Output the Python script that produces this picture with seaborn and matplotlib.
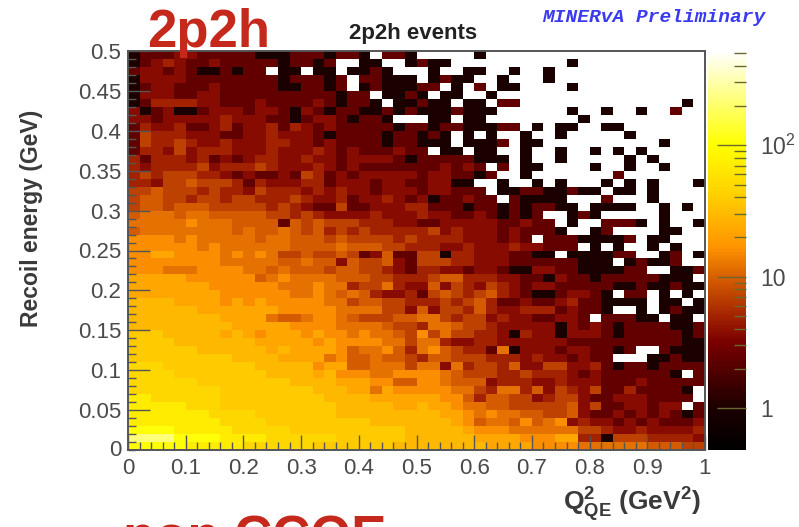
import numpy as np
import pandas as pd
import seaborn as sns
import matplotlib
matplotlib.use("Agg")
import matplotlib.pyplot as plt
from matplotlib.colors import LinearSegmentedColormap, LogNorm
from matplotlib.ticker import FixedLocator, NullFormatter

# Estimated bin contents, top row (recoil 0.5) to bottom row (recoil 0), read as coded levels.
LEVEL_VALUES = {"1": 1, "2": 2.4, "3": 3.7, "4": 5, "5": 7, "6": 9.5, "7": 12, "8": 16, "9": 22,
                "a": 29, "b": 38, "c": 48, "d": 70, "e": 105, "f": 220, ".": np.nan}
ROWS = [
 "1222332222 2111222122 1.221..... 1......... ..........",
 "1234322322 22212212.. 11..1211.. ........1. ..........",
 "2332321121 22.11.11.1 121...1..1 1..1..1... ..........",
 "1333322222 222122212. 22111.1211 ..1...1... ..........",
 "1233222322 222112212. 1211122.1. 2.11....1. ..........",
 "1333223322 2222222212 2.1121.11. .1........ ..........",
 "1244443322 2322223212 21.11211.1 1.22...... ........1.",
 "3123112333 2332132122 1121211121 11......1. .1..1..2..",
 "3323333343 3322123321 221...11.1 1........1 ..........",
 "2433422342 3342432322 2221221221 1122.1.11. .11.......",
 "2544433322 3343332122 22122121.1 .1..1..1.. ...1......",
 "2544543343 3344332322 22122111.1 112.11.... ......1...",
 "2443534443 3343334323 222322.11. 11..1..1.. 1.1.1.....",
 "4244434232 3443343323 3332122222 111.1..1.. ...1.1....",
 "4344445344 4543334323 2222222323 2.2.11.... 1..1..1...",
 "4545554432 3223254232 3333323322 12..1..... ..2.......",
 "4435565554 2433344233 3233223311 ..1..1.1.. .1.1.1...1",
 "5565554544 3544434343 3233323322 2.11221121 1.11.1....",
 "5665545545 5444543342 3343231223 22.21111.. .2...1....",
 "5665666555 5545432252 2333442221 221212211. 1111..1.1.",
 "6777677666 6655454333 3433343322 321212..12 1.....1...",
 "7777787776 6662656555 4443322333 3322322.1. .2221.1..1",
 "6777777776 7667656454 5444445343 33232221.. 12....11..",
 "8888787777 7677666565 5554544443 33232.2221 1112.11...",
 "8888887877 7777666676 6655444334 333433222. 1.1..1.1..",
 "8899888878 7875565565 2362255144 3332211.11 1122..12.1",
 "8888888877 7776676636 5563255544 3332222221 11.12112..",
 "8887778888 7767666566 5543244332 3321133221 11122..112",
 "9999988888 8678777766 6554445664 4433221322 122222111.",
 "9999999888 8887778774 5574336354 3543233222 2211211211",
 "9999999988 8888778767 6433425654 5643211233 21.22.1.1.",
 "aaaa999989 8988888775 6655444545 6422322342 21111.11.1",
 "aaaaaa9999 9998888877 7755363554 6433444232 21..1.1211",
 "aaaaaaaa99 9976678876 5556677545 5343322332 .22211.11.",
 "aaaaaaaaa9 9999888877 7765547765 5433333132 3212222112",
 "bbbaaaaa9a 9899989887 8776585755 4431433133 3212222212",
 "bbbbaaaaaa a999998988 8877577433 4433333322 2222222211",
 "bbbbbbaaaa aa9a999986 7786478654 4271333233 2212..2111",
 "bbbbbbbbba aaa9999786 6766546655 5444343323 22...11211",
 "cccbbbbbbb baaaaa8996 6777577374 5546335533 4212212222",
 "ccccbbbbbb bbaaaa9a88 8778888765 5544544432 32222221.2",
 "ccccccbbbb bbbbaaaa99 9886688766 6344433433 3222322222",
 "ccccccccbb bbbbbbaaa9 9798888877 5477463543 522422221.",
 "ddccccccbb bbbbbbbaaa a999999886 4665534553 223332222.",
 "dddddcccbb bbbbbbbbaa aaa99a9987 7665555563 52233233.2",
 "dddddddccc cbbbbbbbaa aaaaaaa998 7877665563 2232323212",
 "ddddddddcc ccbbbbbbbb baaaaaaa98 6776867834 3323232223",
 "eeeedddddc ccccbbbbbb bbbbaaaaa9 8887777775 5433433334",
 "ffffeeeedd ddccccccbb bbbbaaaaaa 9999888994 4155544443",
 "eeeeeddddd ccccccbbbb bbbaaaaaaa a999988887 7777766655",
]
N_X_BINS = 50
Q2_EDGES_MAX = 1.0
RECOIL_MAX = 0.5
X_TICKS = [0, 0.1, 0.2, 0.3, 0.4, 0.5, 0.6, 0.7, 0.8, 0.9, 1]
X_TICK_LABELS = ["0", "0.1", "0.2", "0.3", "0.4", "0.5", "0.6", "0.7", "0.8", "0.9", "1"]
Y_TICKS = [0.05, 0.1, 0.15, 0.2, 0.25, 0.3, 0.35, 0.4, 0.45, 0.5]
Y_TICK_LABELS = ["0.05", "0.1", "0.15", "0.2", "0.25", "0.3", "0.35", "0.4", "0.45", "0.5"]
CBAR_TICKS = [1, 10, 100]

rows = [r.replace(" ", "") for r in ROWS]
for i, r in enumerate(rows):
    assert len(r) == N_X_BINS, (i, len(r))
grid = np.array([[LEVEL_VALUES[c] for c in r] for r in rows], dtype=float)
df = pd.DataFrame(grid)

sns.set_style("white")
plt.rcParams["font.family"] = ["Liberation Sans", "DejaVu Sans"]
plt.rcParams["mathtext.fontset"] = "custom"
plt.rcParams["mathtext.rm"] = "Liberation Sans"
plt.rcParams["mathtext.bf"] = "Liberation Sans:bold"

W, H = 799, 527
fig = plt.figure(figsize=(W / 100, H / 100), dpi=100)
def box(x0, y0, x1, y1):
    return [x0 / W, 1 - y1 / H, (x1 - x0) / W, (y1 - y0) / H]
ax = fig.add_axes(box(128, 51, 705, 450))
cax = fig.add_axes(box(708, 51, 746, 450))

cmap = LinearSegmentedColormap.from_list("root_hot", [
    (0.00, "#000000"), (0.105, "#1c0000"), (0.27, "#7a0000"), (0.33, "#a02000"),
    (0.435, "#d86000"), (0.51, "#ff9400"), (0.64, "#ffd000"), (0.765, "#ffff00"),
    (0.90, "#ffff90"), (1.00, "#ffffff")])
norm = LogNorm(vmin=0.48, vmax=520)
sns.heatmap(df, ax=ax, cbar_ax=cax, cmap=cmap, norm=norm, mask=df.isna(),
            xticklabels=False, yticklabels=False, linewidths=0, rasterized=True)

GRAY = "#4a4a4a"
ny = len(rows)
ax.set_xlim(0, N_X_BINS)
ax.set_ylim(ny, 0)
ax.set_axisbelow(False)
cax.set_axisbelow(False)
to_x = lambda v: np.asarray(v) / Q2_EDGES_MAX * N_X_BINS
to_y = lambda v: ny - np.asarray(v) / RECOIL_MAX * ny
ax.set_xticks(to_x(X_TICKS))
ax.set_xticklabels(X_TICK_LABELS, fontsize=16, color=GRAY)
ax.set_yticks(to_y(Y_TICKS))
ax.set_yticklabels(Y_TICK_LABELS, fontsize=16, color=GRAY)
ax.xaxis.set_minor_locator(FixedLocator(to_x(np.arange(0, 51) * 0.02)))
ax.yaxis.set_minor_locator(FixedLocator(to_y(np.arange(0, 51) * 0.01)))
ax.tick_params(axis="x", which="major", direction="in", length=11, width=1, color="#555555", bottom=True, pad=6)
ax.tick_params(axis="y", which="major", direction="in", length=16, width=1, color="#555555", left=True, pad=5)
ax.tick_params(axis="both", which="minor", direction="in", length=6, width=1, color="#555555", bottom=True, left=True)
for s in ax.spines.values():
    s.set_visible(True)
    s.set_color("#555555")
    s.set_linewidth(1.4)
fig.text(121 / W, 1 - 450 / H, "0", fontsize=16, color=GRAY, ha="right", va="center")

cb = ax.collections[0].colorbar
cb.outline.set_visible(False)
cax.yaxis.set_major_locator(FixedLocator(CBAR_TICKS))
cax.set_yticklabels(["1", "10", "$10^{2}$"], fontsize=16.5, color=GRAY)
cax.yaxis.set_minor_locator(FixedLocator([m * d for d in (1, 10, 100) for m in range(2, 10)
                                          if 0.48 < m * d < 520]))
cax.yaxis.set_minor_formatter(NullFormatter())
cax.yaxis.tick_right()
cax.tick_params(axis="y", which="major", direction="in", length=21, width=1, color="#6a6a30", pad=10, right=True)
cax.tick_params(axis="y", which="minor", direction="in", length=9, width=1, color="#6a6a30", right=True)

fig.text(147 / W, 1 - 47 / H, "2p2h", fontsize=38, fontweight="bold", color="#c4291c", ha="left", va="baseline")
fig.text(123 / W, 1 - 553 / H, "non CCQE", fontsize=38, fontweight="bold", color="#c4291c", ha="left", va="baseline")
fig.text(413 / W, 1 - 34 / H, "2p2h events", fontsize=16, fontweight="bold", color="#222222", ha="center", va="center")
fig.text(654 / W, 1 - 17 / H, "MINERvA Preliminary", fontsize=14, color="#3a3af0", family="Liberation Mono",
         fontweight="bold", fontstyle="italic", ha="center", va="center")
fig.text(32 / W, 1 - 218 / H, "Recoil energy (GeV)", fontsize=16.5, fontweight="bold", color="#3a3a3a",
         rotation=90, ha="center", va="center")
fig.text(632 / W, 1 - 505 / H, r"$\mathbf{Q^{2}_{QE}}$ (GeV$\mathbf{^{2}}$)", fontsize=19, fontweight="bold",
         color="#3a3a3a", ha="center", va="center")

fig.savefig("out.png", dpi=100)
